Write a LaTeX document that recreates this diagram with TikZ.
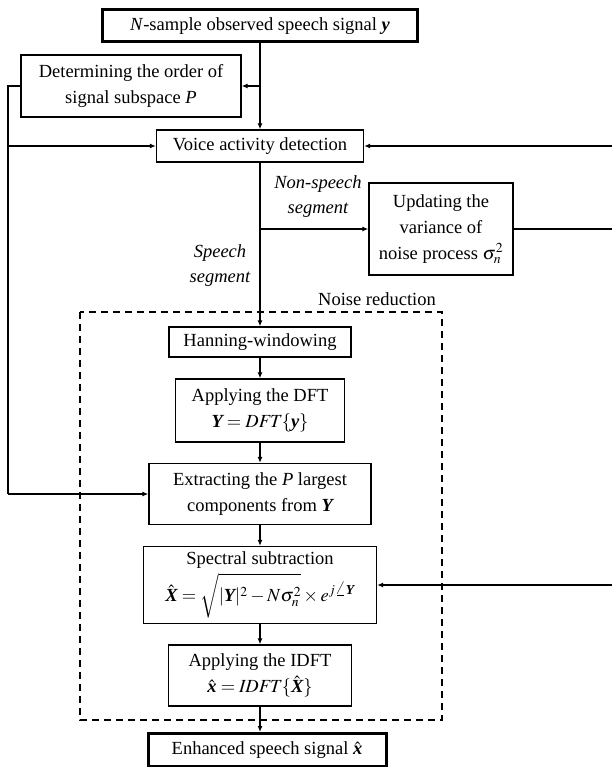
\documentclass[tikz,border=0pt]{standalone}
\usepackage{amsmath}
\usepackage{mathptmx}
\usepackage[no-math]{fontspec}
\setmainfont{Liberation Serif}
\usetikzlibrary{arrows.meta}
\newcommand{\bsym}[1]{\text{\bfseries\itshape #1}}
\begin{document}
\begin{tikzpicture}[x=1pt,y=-1pt,
  font=\fontsize{18.5}{26}\selectfont,
  box/.style={draw,line width=1.3pt,inner sep=0pt,align=center},
  thickbox/.style={draw,line width=3pt,inner sep=0pt,align=center},
  conn/.style={line width=1.3pt},
  arr/.style={line width=1.3pt,-{Latex[length=6pt,width=5pt]}},
  lbl/.style={align=center,inner sep=0pt,font=\fontsize{18.5}{25}\selectfont\itshape}]
\useasboundingbox (0,0) rectangle (611,767);

% dashed noise reduction region
\draw[line width=1.3pt,dash pattern=on 7pt off 5pt] (80,312) rectangle (442,720);
\node[inner sep=0pt] (nrl) at (377,299) {Noise reduction};

\node[thickbox,minimum width=315pt,minimum height=32pt] (top) at (260,26) {\textit{N}-sample observed speech signal \bsym{y}};
\node[box,minimum width=220pt,minimum height=62pt] (det) at (131,86) {Determining the order of\\signal subspace \textit{P}};
\node[box,minimum width=207pt,minimum height=32pt] (vad) at (260,146) {Voice activity detection};
\node[box,minimum width=144pt,minimum height=92pt] (upd) at (441,229) {Updating the\\variance of\\noise process $\sigma_n^2$};
\node[box,minimum width=182pt,minimum height=30pt] (han) at (260,342) {Hanning-windowing};
\node[box,minimum width=169pt,minimum height=63pt] (dft) at (260,410.5) {Applying the DFT\\$\bsym{Y} = \mathit{DFT}\{\bsym{y}\}$};
\node[box,minimum width=222pt,minimum height=61pt] (ext) at (260,494) {Extracting the \textit{P} largest\\components from \bsym{Y}};
\node[box,minimum width=233pt,minimum height=77pt] (spec) at (260,585) {Spectral subtraction\\[4pt]$\hat{\bsym{X}} = \sqrt{\vphantom{\Big|}|\bsym{Y}|^2 - N\sigma_n^2}\times e^{j\angle \bsym{Y}}$};
\node[box,minimum width=183pt,minimum height=61pt] (idft) at (260,675.5) {Applying the IDFT\\$\hat{\bsym{x}} = \mathit{IDFT}\{\hat{\bsym{X}}\}$};
\node[thickbox,minimum width=238pt,minimum height=33pt] (enh) at (267,750) {Enhanced speech signal $\hat{\bsym{x}}$};

\node[lbl] (nsl) at (318,197) {Non-speech\\segment};
\node[lbl] (spl) at (220,266) {Speech\\segment};

% junctions
\coordinate (jdet) at (260,86);
\coordinate (jupd) at (260,229);
\coordinate (l1) at (8,86);
\coordinate (l2) at (8,146);
\coordinate (l3) at (8,494);
\coordinate (r1) at (616,229);
\coordinate (r2) at (616,146);
\coordinate (r3) at (616,585);

% main flow
\draw[arr] (top.south) -- (vad.north);
\draw[arr] (jdet) -- (det.east);
\draw[arr] (vad.south) -- (han.north);
\draw[arr] (jupd) -- (upd.west);
\draw[arr] (han.south) -- (dft.north);
\draw[arr] (dft.south) -- (ext.north);
\draw[arr] (ext.south) -- (spec.north);
\draw[arr] (spec.south) -- (idft.north);
\draw[arr] (idft.south) -- (idft.south |- enh.north);

% left feedback from P
\draw[conn] (det.west) -- (l1) -- (l3);
\draw[arr] (l2) -- (vad.west);
\draw[arr] (l3) -- (ext.west);

% right feedback from noise variance
\draw[conn] (upd.east) -- (r1);
\draw[conn] (r2) -- (r3);
\draw[arr] (r2) -- (vad.east);
\draw[arr] (r3) -- (spec.east);
\end{tikzpicture}
\end{document}
